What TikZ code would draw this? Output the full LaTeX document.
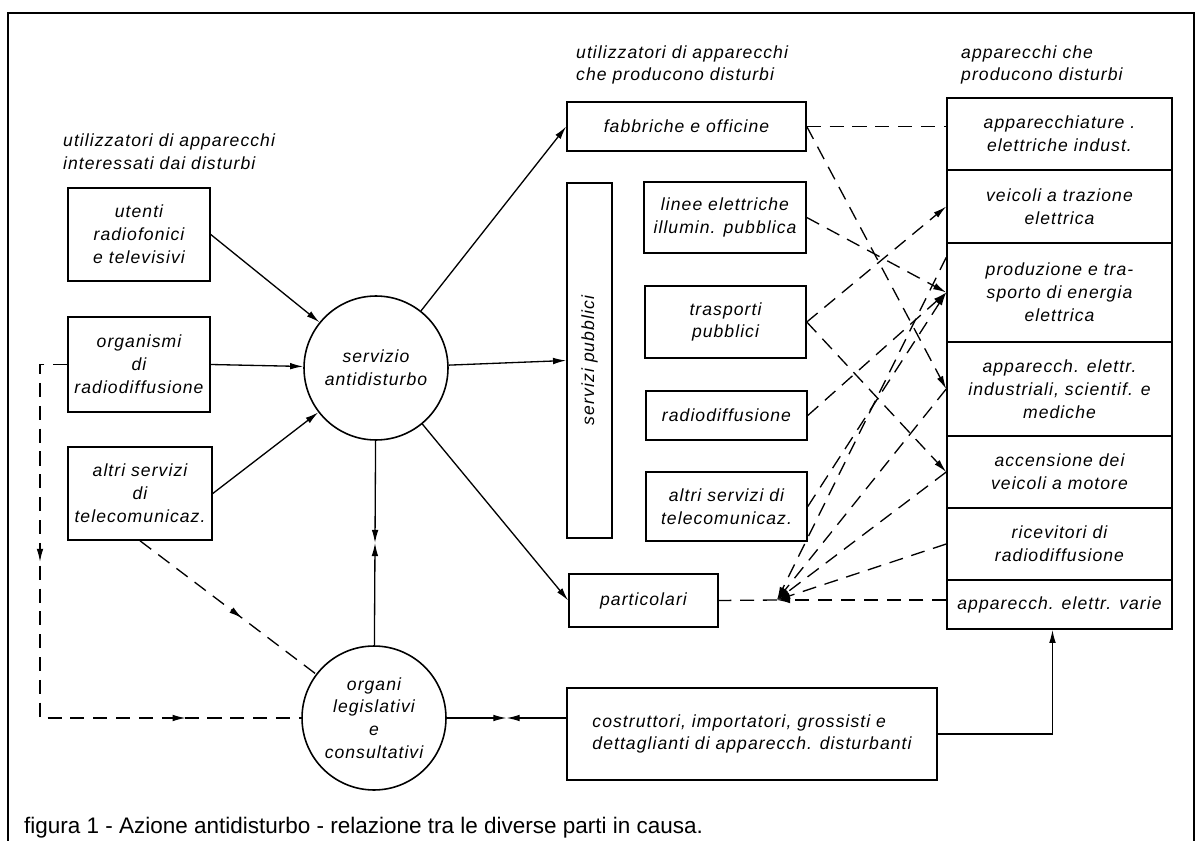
\documentclass[tikz,border=0pt]{standalone}
\usepackage{fontspec}
\usepackage{tikz}
\usetikzlibrary{
  arrows.meta,
  positioning,
  calc,
  decorations.markings
}
\newfontfamily\lettfont[LetterSpace=6]{Liberation Sans}
\newfontfamily\capfont{Liberation Sans}
\newcommand{\lett}{\lettfont\itshape\fontsize{10}{13}\selectfont}

\begin{document}
\begin{tikzpicture}[x=0.02cm, y=-0.02cm,
  box/.style ={draw,line width=0.9pt,inner sep=1pt,font=\lett,align=center},
  rnd/.style ={draw,circle,line width=0.9pt,minimum size=2.88cm,inner sep=0pt,
               font=\lett,align=center},
  hdr/.style ={anchor=west,align=left,font=\lett},
  arr/.style ={-{Latex[length=7.5pt,width=3.8pt]},line width=0.75pt},
  dsh/.style ={dash pattern=on 8pt off 5pt,line width=0.75pt},
  darr/.style={dsh,-{Latex[length=7.5pt,width=3.8pt]}},
]
\useasboundingbox (0,0) rectangle (1200,841);
\draw[line width=0.8pt] (8,841) -- (8,13) -- (1194,13) -- (1194,841);

\node[hdr] (hdrL) at (57,152) {utilizzatori di apparecchi\\interessati dai disturbi};
\node[hdr] (hdrM) at (570,65) {utilizzatori di apparecchi\\che producono disturbi};
\node[hdr] (hdrR) at (955,65) {apparecchi che\\producono disturbi};

\node[box,minimum width=2.84cm,minimum height=1.86cm] (utenti)  at (139,234.5)
  {utenti\\radiofonici\\e televisivi};
\node[box,minimum width=2.84cm,minimum height=1.90cm] (organism) at (139,364.5)
  {organismi\\di\\radiodiffusione};
\node[box,minimum width=2.88cm,minimum height=1.86cm] (altriL)  at (140,493.5)
  {altri servizi\\di\\telecomunicaz.};

\node[rnd] (servizio) at (376,368) {servizio\\antidisturbo};
\node[rnd] (organi)   at (374,718) {organi\\legislativi\\e\\consultativi};

\node[box,minimum width=4.78cm,minimum height=0.98cm] (fabbr) at (686.5,126.5)
  {fabbriche e officine};
\node[box,minimum width=0.90cm,minimum height=7.10cm] (spub)  at (589.5,360.5)
  {\rotatebox{90}{servizi pubblici}};
\node[box,minimum width=3.24cm,minimum height=1.42cm] (linee) at (725,217.5)
  {linee elettriche\\illumin. pubblica};
\node[box,minimum width=3.22cm,minimum height=1.44cm] (trasp) at (725.5,322)
  {trasporti\\pubblici};
\node[box,minimum width=3.22cm,minimum height=0.98cm] (radio) at (726.5,415.5)
  {radiodiffusione};
\node[box,minimum width=3.22cm,minimum height=1.38cm] (altriM) at (726.5,506.5)
  {altri servizi di\\telecomunicaz.};
\node[box,minimum width=2.98cm,minimum height=1.06cm] (partic) at (643.5,600.5)
  {particolari};
\node[box,minimum width=7.40cm,minimum height=1.84cm,align=left] (costr) at (752,734)
  {costruttori, importatori, grossisti e\\dettaglianti di apparecch. disturbanti};

\node[box,minimum width=4.50cm,minimum height=1.44cm] (r1) at (1059.5,134)
  {apparecchiature .\\elettriche indust.};
\node[box,minimum width=4.50cm,minimum height=1.46cm] (r2) at (1059.5,206.5)
  {veicoli a trazione\\elettrica};
\node[box,minimum width=4.50cm,minimum height=1.98cm] (r3) at (1059.5,292.5)
  {produzione e tra-\\sporto di energia\\elettrica};
\node[box,minimum width=4.50cm,minimum height=1.88cm] (r4) at (1059.5,389)
  {apparecch. elettr.\\industriali, scientif. e\\mediche};
\node[box,minimum width=4.50cm,minimum height=1.44cm] (r5) at (1059.5,472)
  {accensione dei\\veicoli a motore};
\node[box,minimum width=4.50cm,minimum height=1.44cm] (r6) at (1059.5,544)
  {ricevitori di\\radiodiffusione};
\node[box,minimum width=4.50cm,minimum height=0.98cm] (r7) at (1059.5,604.5)
  {apparecch. elettr. varie};

\draw[arr] (utenti.east) -- (servizio);
\draw[arr] (organism.east) -- (servizio);
\draw[arr] (altriL.east) -- (servizio);
\draw[arr] (servizio) -- (fabbr.west);
\draw[arr] (servizio) -- (spub.west);
\draw[arr] (servizio) -- (partic.west);

\coordinate (midV) at ($(servizio.south)!0.5!(organi.north)$);
\draw[arr] (servizio) -- (midV);
\draw[arr] (organi) -- (midV);
\coordinate (midH) at ($(organi.east)!0.5!(organi.east -| costr.west)$);
\draw[arr] (organi.east) -- (midH);
\draw[arr] (organi.east -| costr.west) -- (midH);
\draw[arr] (costr.east) -| ([xshift=-4pt]r7.south);

\coordinate (lc1) at (40,364.5);
\coordinate (lc2) at (40,718);
\draw[dsh,postaction={decorate},decoration={markings,
    mark=at position 0.35 with {\arrow{Latex[length=7.5pt,width=3.8pt]}},
    mark=at position 0.82 with {\arrow{Latex[length=7.5pt,width=3.8pt]}}}]
  (organism.west) -- (lc1) -- (lc2) -- (organi.west);
\draw[dsh,postaction={decorate},decoration={markings,
    mark=at position 0.58 with {\arrow{Latex[length=7.5pt,width=3.8pt]}}}]
  (altriL.south) -- (organi);

\draw[dsh]  (fabbr.east) -- (fabbr.east -| r1.west);
\draw[darr] (fabbr.east) -- (r4.west);
\draw[darr] (linee.east) -- (r3.west);
\draw[darr] (trasp.east) -- (r2.west);
\draw[darr] (trasp.east) -- (r5.west);
\draw[darr] (radio.east) -- (r3.west);
\draw[darr] (altriM.east) -- (r3.west);

\coordinate (fan) at (777,600);
\draw[darr] (fan -| r7.west) -- (fan);
\draw[darr] (r6.west) -- (fan);
\draw[darr] (r5.west) -- (fan);
\draw[darr] (r4.west) -- (fan);
\draw[darr] ($(r3.north west)!0.15!(r3.south west)$) -- (fan);
\draw[dsh]  (fan) -- (partic.east);

\node[anchor=west,font=\capfont\fontsize{12.8}{14}\selectfont] (caption) at (18,828)
  {figura 1 - Azione antidisturbo - relazione tra le diverse parti in causa.};
\end{tikzpicture}
\end{document}
